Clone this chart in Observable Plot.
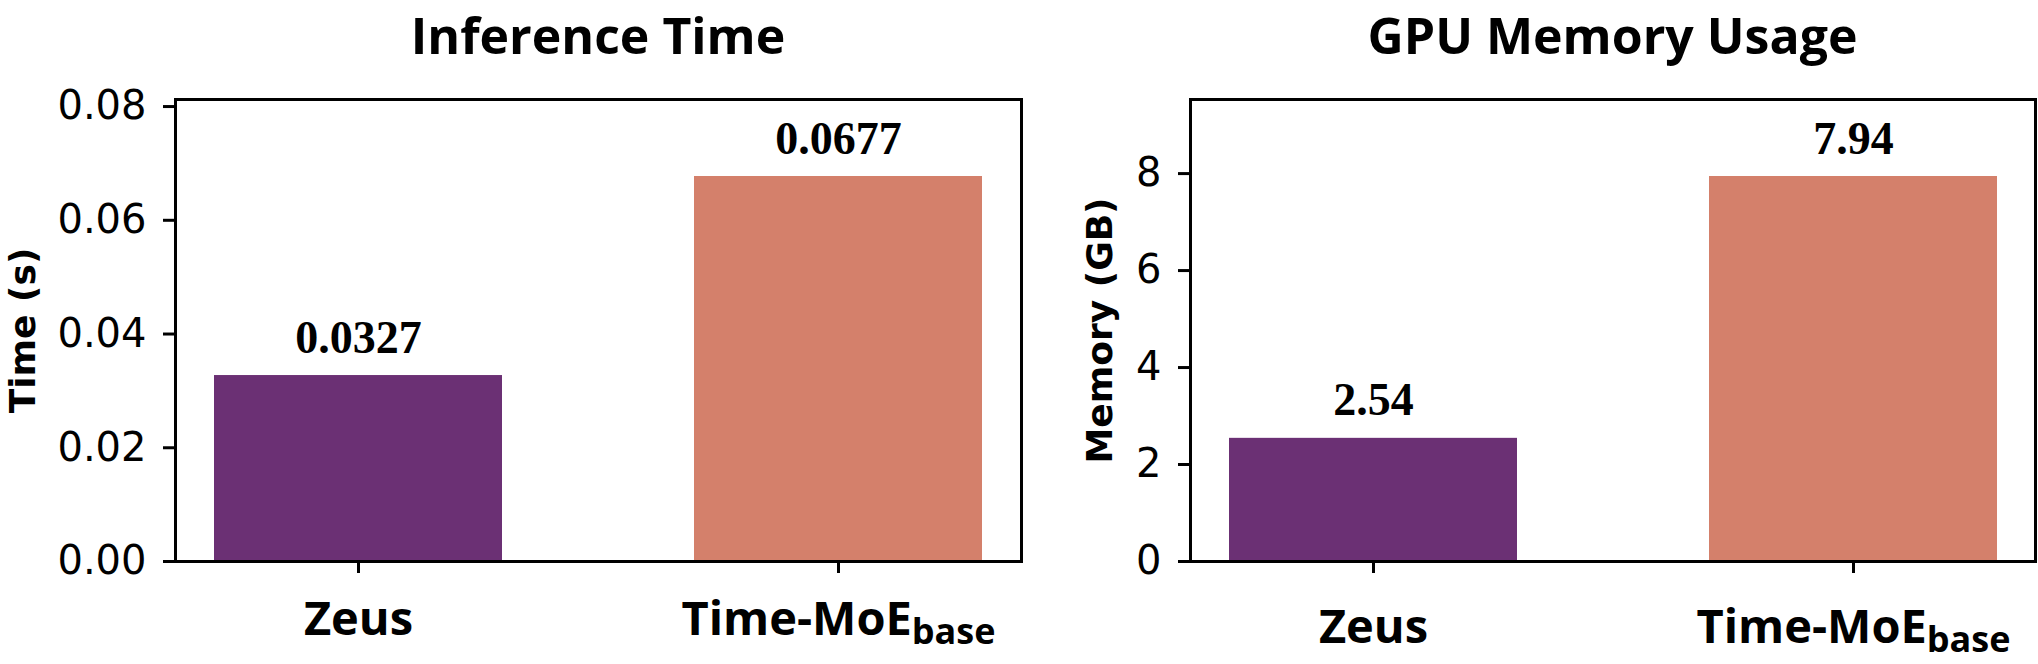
<!DOCTYPE html>
<html>
<head>
<meta charset="utf-8">
<script src="https://cdn.jsdelivr.net/npm/d3@7"></script>
<script src="https://cdn.jsdelivr.net/npm/@observablehq/plot@0.6"></script>
<style>
  html, body { margin: 0; padding: 0; background: white; }
  #root { position: relative; width: 2038px; height: 664px; background: white; overflow: hidden; }
  .title { position: absolute; top: 0px; }
  .panel { position: absolute; top: 70px; }
  .panel svg { overflow: visible; }
  g[aria-label="x-axis tick label"] text { font-family: "Open Sans", sans-serif; font-weight: 700; font-size: 47px; }
  g[aria-label="y-axis tick label"] text { font-family: "DejaVu Sans", sans-serif; font-size: 40px; }
  g[aria-label="x-axis tick"], g[aria-label="y-axis tick"] { stroke-width: 3px; }
</style>
</head>
<body>
<div id="root"></div>
<script>
// ---- data ----
const models = ["Zeus", "Time-MoE"];
const modelSubscripts = ["", "base"];
const timeValues = [0.0327, 0.0677];
const memoryValues = [2.54, 7.94];
const barColors = ["#6b3074", "#d4806b"];
const timeTicks = [0, 0.02, 0.04, 0.06, 0.08];
const memoryTicks = [0, 2, 4, 6, 8];
const panelTitles = ["Inference Time", "GPU Memory Usage"];
const yLabels = ["Time (s)", "Memory (GB)"];

const root = document.getElementById("root");
const SVGNS = "http://www.w3.org/2000/svg";

function makePanel(cfg) {
  const data = models.map((m, i) => ({model: m, value: cfg.values[i]}));
  const yMax = d3.max(cfg.values) * 1.2;
  const chart = Plot.plot({
    width: cfg.width,
    height: 594,
    marginTop: 29,
    marginBottom: 103,
    marginLeft: cfg.marginLeft,
    marginRight: cfg.marginRight,
    style: {background: "white", color: "black", fontFamily: "DejaVu Sans"},
    x: {type: "band", domain: models, paddingInner: 0.4, paddingOuter: 0.08, axis: null},
    y: {domain: [0, yMax], axis: null},
    color: {type: "ordinal", domain: models, range: barColors},
    marks: [
      Plot.barY(data, {x: "model", y: "value", fill: "model", inset: 0}),
      Plot.text(data, {
        x: "model", y: "value", text: d => cfg.valueFormat(d.value),
        dy: -23, lineAnchor: "bottom",
        fontFamily: "Liberation Serif", fontWeight: "bold", fontSize: 46, fill: "black"
      }),
      Plot.axisY({
        ticks: cfg.ticks, tickFormat: cfg.tickFormat, tickSize: 12, tickPadding: 17,
        strokeWidth: 3, fontSize: 40, fontFamily: "DejaVu Sans", label: null
      }),
      Plot.axisX({
        tickSize: 12, tickPadding: cfg.xPad, strokeWidth: 3,
        fontSize: 47, fontFamily: "Open Sans", fontWeight: 700, label: null
      }),
      Plot.text([cfg.yLabel], {
        frameAnchor: "left", textAnchor: "middle", text: d => d, rotate: -90,
        dx: cfg.labelDx, lineAnchor: "bottom",
        fontFamily: "DejaVu Sans", fontWeight: "bold", fontSize: 36, fill: "black"
      }),
      Plot.frame({stroke: "black", strokeWidth: 3})
    ]
  });
  // add subscripts to category tick labels
  chart.querySelectorAll('g[aria-label="x-axis tick label"] text').forEach(t => {
    const idx = models.indexOf(t.textContent);
    if (idx >= 0 && modelSubscripts[idx]) {
      const ts = document.createElementNS(SVGNS, "tspan");
      ts.setAttribute("style", "font-size:36px");
      ts.setAttribute("dy", "9");
      ts.textContent = modelSubscripts[idx];
      t.appendChild(ts);
    }
  });
  const wrap = document.createElement("div");
  wrap.className = "panel";
  wrap.style.left = cfg.left + "px";
  wrap.appendChild(chart);
  root.appendChild(wrap);

  // title above the chart
  const fw = cfg.width - cfg.marginLeft - cfg.marginRight;
  const tsvg = document.createElementNS(SVGNS, "svg");
  tsvg.setAttribute("width", fw);
  tsvg.setAttribute("height", 70);
  tsvg.setAttribute("class", "title");
  tsvg.style.left = (cfg.left + cfg.marginLeft) + "px";
  const tt = document.createElementNS(SVGNS, "text");
  tt.setAttribute("x", fw / 2);
  tt.setAttribute("y", 54);
  tt.setAttribute("text-anchor", "middle");
  tt.setAttribute("font-family", "Open Sans, sans-serif");
  tt.setAttribute("font-weight", "700");
  tt.setAttribute("font-size", "50");
  tt.setAttribute("fill", "black");
  tt.textContent = cfg.title;
  tsvg.appendChild(tt);
  root.appendChild(tsvg);
}

makePanel({
  left: 0, width: 1040, marginLeft: 175, marginRight: 19,
  values: timeValues, ticks: timeTicks, tickFormat: d3.format(".2f"),
  valueFormat: d3.format(".4f"), yLabel: yLabels[0], labelDx: -141, xPad: 28,
  title: panelTitles[0]
});
makePanel({
  left: 1040, width: 998, marginLeft: 150, marginRight: 3,
  values: memoryValues, ticks: memoryTicks, tickFormat: d3.format("d"),
  valueFormat: d3.format(".2f"), yLabel: yLabels[1], labelDx: -79, xPad: 36,
  title: panelTitles[1]
});
</script>
</body>
</html>
